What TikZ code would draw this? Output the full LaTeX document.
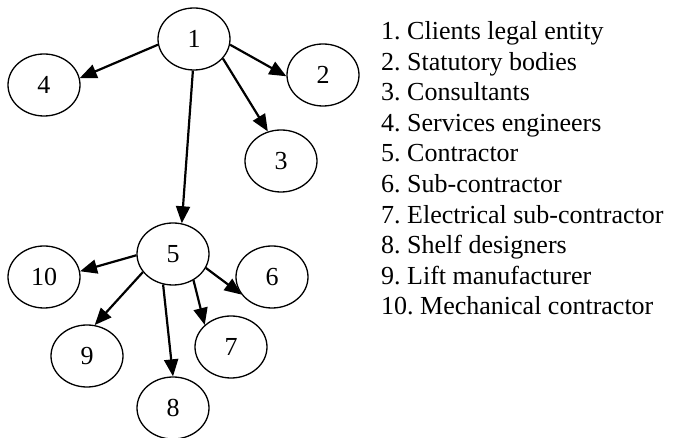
\documentclass[tikz,border=0pt]{standalone}
\usepackage{fontspec}
\setmainfont{Liberation Serif}
\usetikzlibrary{shapes.geometric,arrows.meta}
\frenchspacing

\begin{document}
\begin{tikzpicture}[x=1pt,y=-1pt,
  party/.style={ellipse,draw=black,line width=1.3pt,minimum width=72pt,minimum height=62pt,inner sep=0pt,font=\fontsize{26}{26}\selectfont},
  link/.style={line width=2.2pt,-{Triangle[length=17pt,width=14pt]}},
  entry/.style={anchor=base west,inner sep=0pt,font=\fontsize{26}{30}\selectfont}]
\useasboundingbox (0,0) rectangle (673,438);
% upper group
\node[party] (n1) at (194,39) {1};
\node[party] (n2) at (323,75) {2};
\node[party] (n3) at (281,161) {3};
\node[party] (n4) at (44,85) {4};
% lower group
\node[party] (n5) at (173,254) {5};
\node[party] (n6) at (272,277) {6};
\node[party] (n7) at (231,347) {7};
\node[party] (n8) at (173,408) {8};
\node[party] (n9) at (87,356) {9};
\node[party] (n10) at (44,277) {10};
% links from 1
\draw[link] (n1.189) -- (n4.11);
\draw[link] (n1.-9) -- (n2.182);
\draw[link] (n1.-34) -- (n3.114);
\draw[link] (n1.268) -- (n5.74);
% links from 5
\draw[link] (n5.182) -- (n10.9);
\draw[link] (n5.211) -- (n9.76);
\draw[link] (n5.252) -- (n8.90);
\draw[link] (n5.308) -- (n7.140);
\draw[link] (n5.337) -- (n6.210);
% key
\foreach \i/\txt in {1/Clients legal entity,2/Statutory bodies,3/Consultants,
  4/Services engineers,5/Contractor,6/Sub-contractor,7/Electrical sub-contractor,
  8/Shelf designers,9/Lift manufacturer,10/Mechanical contractor}
  \node[entry] (item\i) at (381,{39.5+30.6*(\i-1)}) {\i. \txt};
\end{tikzpicture}
\end{document}
